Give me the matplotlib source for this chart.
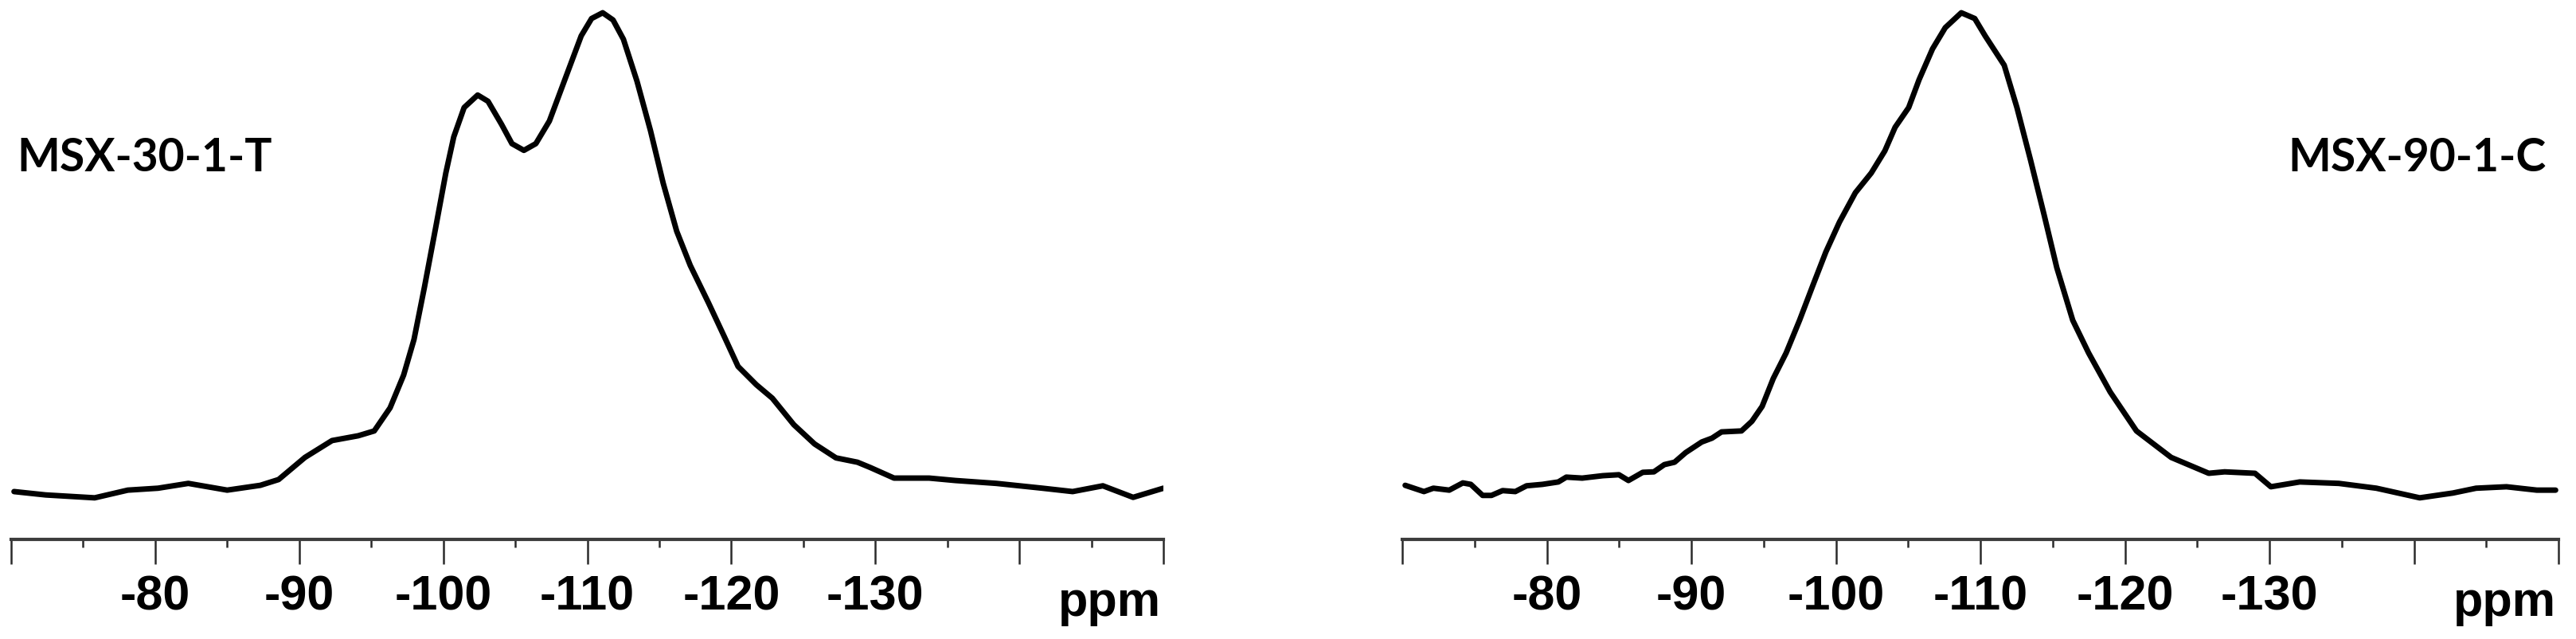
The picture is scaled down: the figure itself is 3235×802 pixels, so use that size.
import numpy as np
from matplotlib import pyplot as plt
from matplotlib.ticker import MultipleLocator

# chemical shift (ppm) and relative intensity
ppm_30 = [-70.2, -72.4, -75.8, -78.1, -80.2, -82.3, -85.0, -87.3, -88.57, -90.40,
          -92.28, -94.10, -95.21, -96.31, -97.25, -97.97, -98.69, -99.46, -100.18, -100.73,
          -101.45, -102.39, -103.11, -104.05, -104.77, -105.60, -106.43, -107.37, -108.48, -109.58,
          -110.30, -111.07, -111.79, -112.51, -113.45, -114.39, -115.27, -116.21, -117.15, -118.42,
          -119.53, -120.47, -121.74, -122.85, -124.34, -125.78, -127.27, -128.76, -129.65, -131.30,
          -133.74, -135.56, -138.4, -141.6, -143.7, -145.8, -147.9, -150.0]
int_30 = [0.5, -0.2, -0.8, 0.8, 1.2, 2.2, 0.8, 1.8, 3.0, 7.6,
          11.1, 12.1, 13.1, 17.9, 24.7, 32.1, 42.9, 55.1, 66.7, 74.2,
          80.3, 82.9, 81.6, 76.8, 72.8, 71.4, 72.8, 77.5, 86.4, 95.2,
          98.8, 100.0, 98.5, 94.5, 85.8, 75.5, 64.6, 54.6, 47.5, 39.7,
          32.6, 26.5, 22.7, 19.9, 14.4, 10.4, 7.5, 6.6, 5.5, 3.3,
          3.3, 2.8, 2.2, 1.2, 0.5, 1.7, -0.7, 1.2]

ppm_90 = [-70.2, -71.5, -72.15, -73.25, -74.19, -74.74, -75.56, -76.17, -76.94, -77.82,
          -78.60, -79.70, -80.80, -81.35, -82.45, -83.88, -84.99, -85.65, -86.64, -87.41,
          -88.13, -88.84, -89.61, -90.72, -91.43, -92.09, -93.47, -94.19, -94.90, -95.67,
          -96.56, -97.49, -98.43, -99.31, -100.25, -101.35, -102.45, -103.39, -104.10, -105.04,
          -105.76, -106.69, -107.57, -108.68, -109.61, -110.33, -111.65, -112.53, -113.47, -114.41,
          -115.29, -116.39, -117.49, -118.98, -120.8, -123.2, -125.8, -126.9, -129.0, -130.1,
          -132.1, -134.8, -137.4, -140.4, -142.7, -144.3, -146.4, -148.5, -149.8]
int_90 = [1.8, 0.5, 1.2, 0.8, 2.3, 2.0, -0.3, -0.3, 0.7, 0.5,
          1.7, 2.0, 2.5, 3.5, 3.3, 3.8, 4.0, 2.8, 4.5, 4.6,
          6.1, 6.6, 8.6, 10.8, 11.6, 12.9, 13.1, 15.1, 18.2, 24.0,
          29.3, 36.1, 43.5, 50.3, 56.5, 62.6, 66.7, 71.3, 76.2, 80.3,
          86.1, 92.5, 96.9, 100.0, 98.8, 95.2, 89.1, 80.3, 69.4, 58.0,
          47.0, 36.1, 29.3, 21.2, 13.1, 7.6, 4.3, 4.6, 4.3, 1.5,
          2.5, 2.2, 1.2, -0.8, 0.2, 1.2, 1.5, 0.8, 0.8]

major_ticks = [-70, -80, -90, -100, -110, -120, -130, -140, -150]
tick_labels = ["", "-80", "-90", "-100", "-110", "-120", "-130", "", ""]

W, H = 3235, 802
fig = plt.figure(figsize=(W / 100, H / 100), dpi=100)


def panel(x0, x1, ppm, inten, name, name_x, name_ha):
    ax = fig.add_axes([x0 / W, (H - 677) / H, (x1 - x0) / W, 677 / H])
    ax.plot(ppm, inten, color="black", lw=5.0, solid_joinstyle="round",
            solid_capstyle="round")
    ax.set_xlim(-70, -150)
    ax.set_ylim(-9.44, 102.65)
    for s in ["top", "left", "right"]:
        ax.spines[s].set_visible(False)
    ax.spines["bottom"].set_color("#3c3c3c")
    ax.spines["bottom"].set_linewidth(3.0)
    ax.set_yticks([])
    ax.set_xticks(major_ticks)
    ax.set_xticklabels(tick_labels, family="Liberation Sans", weight="bold", fontsize=44)
    ax.xaxis.set_minor_locator(MultipleLocator(5))
    ax.tick_params(axis="x", which="major", length=22, width=1.8, color="#2a2a2a", pad=10)
    ax.tick_params(axis="x", which="minor", length=7, width=1.8, color="#2a2a2a")
    ax.set_facecolor("none")
    fig.text((x1 - 3) / W, 1 - 773 / H, "ppm", ha="right", va="baseline",
             family="Liberation Sans", weight="bold", fontsize=44)
    fig.text(name_x / W, 1 - 215 / H, name, ha=name_ha, va="baseline",
             family="Lato", weight="bold", fontsize=41)
    return ax


panel(14, 1461, ppm_30, int_30, "MSX-30-1-T", 21, "left")
panel(1761, 3213, ppm_90, int_90, "MSX-90-1-C", 3198, "right")

fig.savefig("out.png", dpi=100)
